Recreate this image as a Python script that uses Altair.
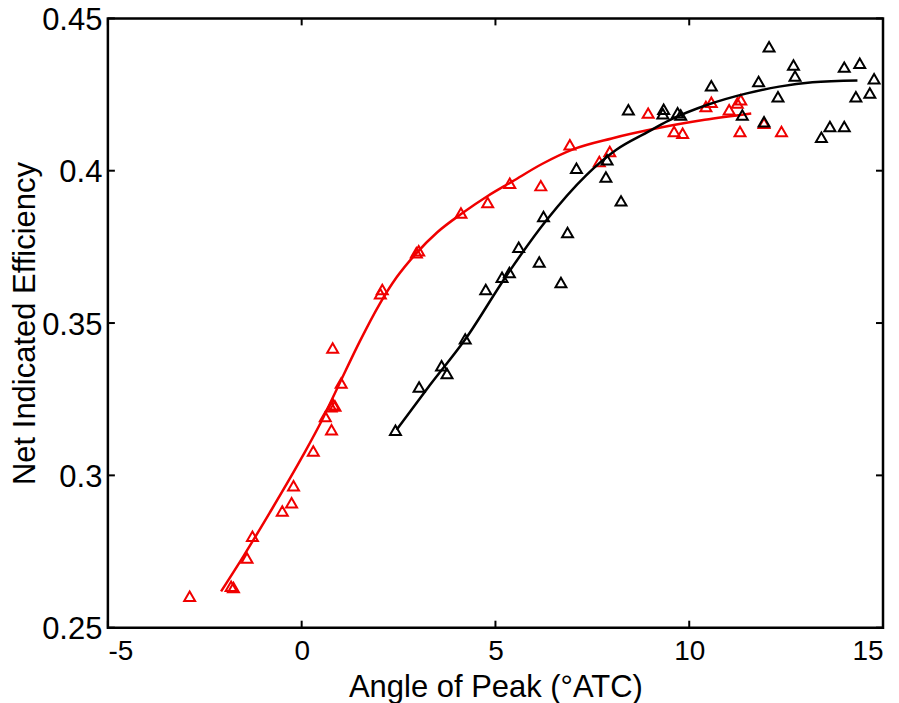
import altair as alt
import pandas as pd

# ---- data ----
red_x = [-2.89, -1.82, -1.76, -1.41, -1.27, -0.50, -0.26, -0.21, 0.30, 0.61, 0.77, 0.76, 0.82, 0.86,
         1.02, 0.80, 2.03, 2.08, 2.96, 3.02, 4.11, 4.80, 5.37, 6.17, 6.92, 7.68, 7.95, 8.94, 9.61,
         9.83, 10.43, 10.57, 11.03, 11.24, 11.33, 11.31, 11.93, 12.38]
red_y = [0.2603, 0.2636, 0.2632, 0.2729, 0.2800, 0.2883, 0.2910, 0.2966, 0.3080, 0.3193, 0.3150,
         0.3225, 0.3232, 0.3228, 0.3303, 0.3418, 0.3596, 0.3610, 0.3731, 0.3737, 0.3861, 0.3896,
         0.3959, 0.3951, 0.4085, 0.4030, 0.4063, 0.4189, 0.4129, 0.4123, 0.4211, 0.4225, 0.4200,
         0.4222, 0.4233, 0.4129, 0.4156, 0.4129]

black_x = [2.42, 3.03, 3.61, 3.75, 4.22, 4.75, 5.17, 5.36, 5.60, 6.13, 6.24, 6.69, 6.86, 7.09, 7.85,
           7.88, 8.24, 8.43, 9.34, 9.32, 9.70, 9.78, 10.57, 11.37, 11.79, 11.93, 12.06, 12.29, 12.69,
           12.73, 13.41, 13.63, 14.00, 14.00, 14.30, 14.40, 14.66, 14.77]
black_y = [0.3148, 0.3290, 0.3360, 0.3334, 0.3448, 0.3610, 0.3650, 0.3666, 0.3749, 0.3700, 0.3850,
           0.3633, 0.3797, 0.4008, 0.3979, 0.4036, 0.3901, 0.4200, 0.4202, 0.4187, 0.4190, 0.4183,
           0.4279, 0.4183, 0.4293, 0.4161, 0.4407, 0.4243, 0.4347, 0.4311, 0.4110, 0.4145, 0.4145,
           0.4340, 0.4243, 0.4353, 0.4255, 0.4302]

red_fit_x = [-2.08, -1.5, -0.83, 0.02, 0.50, 0.97, 1.50, 2.00, 2.45, 2.95, 3.50, 4.15, 4.80, 5.44,
             6.20, 7.00, 8.00, 9.20, 10.40, 11.60]
red_fit_y = [0.2619, 0.2735, 0.2876, 0.3062, 0.3175, 0.3300, 0.3440, 0.3560, 0.3650, 0.3728, 0.3798,
             0.3861, 0.3917, 0.3965, 0.4022, 0.4070, 0.4106, 0.4140, 0.4167, 0.4188]

black_fit_x = [2.45, 3.30, 4.24, 5.27, 6.30, 7.34, 8.11, 8.90, 9.48, 10.51, 11.46, 12.32, 13.18, 14.34]
black_fit_y = [0.3150, 0.3295, 0.3450, 0.3653, 0.3835, 0.3985, 0.4068, 0.4125, 0.4165, 0.4218, 0.4253,
               0.4276, 0.4290, 0.4296]

x_ticks = [-5, 0, 5, 10, 15]
y_ticks = [0.25, 0.3, 0.35, 0.4, 0.45]

W, H = 776, 610
RED = "#f00000"
FONT = "Liberation Sans"
TL = 7

xs = alt.Scale(domain=[-5, 15], nice=False, zero=False)
ys = alt.Scale(domain=[0.25, 0.45], nice=False, zero=False)

red_df = pd.DataFrame({"x": red_x, "y": red_y})
black_df = pd.DataFrame({"x": black_x, "y": black_y})
red_fit = pd.DataFrame({"x": red_fit_x, "y": red_fit_y})
black_fit = pd.DataFrame({"x": black_fit_x, "y": black_fit_y})
xt = pd.DataFrame({"v": x_ticks})
yt = pd.DataFrame({"v": y_ticks})
one = pd.DataFrame({"a": [0]})

x_axis = alt.Axis(values=x_ticks, title="Angle of Peak (°ATC)", labelExpr="'' + datum.value",
                  domain=False, ticks=False, grid=False, labelFontSize=28, labelFont=FONT,
                  labelColor="black", labelPadding=10, titleFont=FONT, titleFontSize=31,
                  titleFontWeight="normal", titleColor="black", titleY=45, titleBaseline="top")
y_axis = alt.Axis(values=y_ticks, title="Net Indicated Efficiency", labelExpr="'' + datum.value",
                  domain=False, ticks=False, grid=False, labelFontSize=31, labelFont=FONT,
                  labelColor="black", labelPadding=6, labelOffset=2, titleFont=FONT, titleFontSize=31,
                  titleFontWeight="normal", titleColor="black", titleX=-66)

base_x = alt.X("x:Q", scale=xs, axis=x_axis)
base_y = alt.Y("y:Q", scale=ys, axis=y_axis)
px = alt.X("x:Q", scale=xs)
py = alt.Y("y:Q", scale=ys)

red_line = alt.Chart(red_fit).mark_line(color=RED, strokeWidth=2.5, interpolate="monotone").encode(
    x=base_x, y=base_y)
black_line = alt.Chart(black_fit).mark_line(color="black", strokeWidth=2.5, interpolate="monotone").encode(
    x=px, y=py)
red_pts = alt.Chart(red_df).mark_point(shape="triangle-up", filled=False, color=RED, strokeWidth=2,
                                       size=120, opacity=1).encode(x=px, y=py)
black_pts = alt.Chart(black_df).mark_point(shape="triangle-up", filled=False, color="black",
                                           strokeWidth=2, size=120, opacity=1).encode(x=px, y=py)

tick_style = dict(color="black", strokeWidth=2)
bt = alt.Chart(xt).mark_rule(**tick_style).encode(x=alt.X("v:Q", scale=xs), y=alt.value(H), y2=alt.value(H - TL))
tt = alt.Chart(xt).mark_rule(**tick_style).encode(x=alt.X("v:Q", scale=xs), y=alt.value(0), y2=alt.value(TL))
lt = alt.Chart(yt).mark_rule(**tick_style).encode(y=alt.Y("v:Q", scale=ys), x=alt.value(0), x2=alt.value(TL))
rt = alt.Chart(yt).mark_rule(**tick_style).encode(y=alt.Y("v:Q", scale=ys), x=alt.value(W), x2=alt.value(W - TL))
frame = alt.Chart(one).mark_rect(fillOpacity=0, stroke="black", strokeWidth=2.5).encode(
    x=alt.value(0), x2=alt.value(W), y=alt.value(0), y2=alt.value(H))

chart = alt.layer(red_line, red_pts, black_line, black_pts, bt, tt, lt, rt, frame).properties(
    width=W, height=H,
    autosize=alt.AutoSizeParams(type="none"),
    padding={"left": 100, "top": 10, "right": 8, "bottom": 75},
).configure_view(strokeWidth=0).configure(background="white")

chart.save("out.html", embed_options={"renderer": "svg", "actions": False})
